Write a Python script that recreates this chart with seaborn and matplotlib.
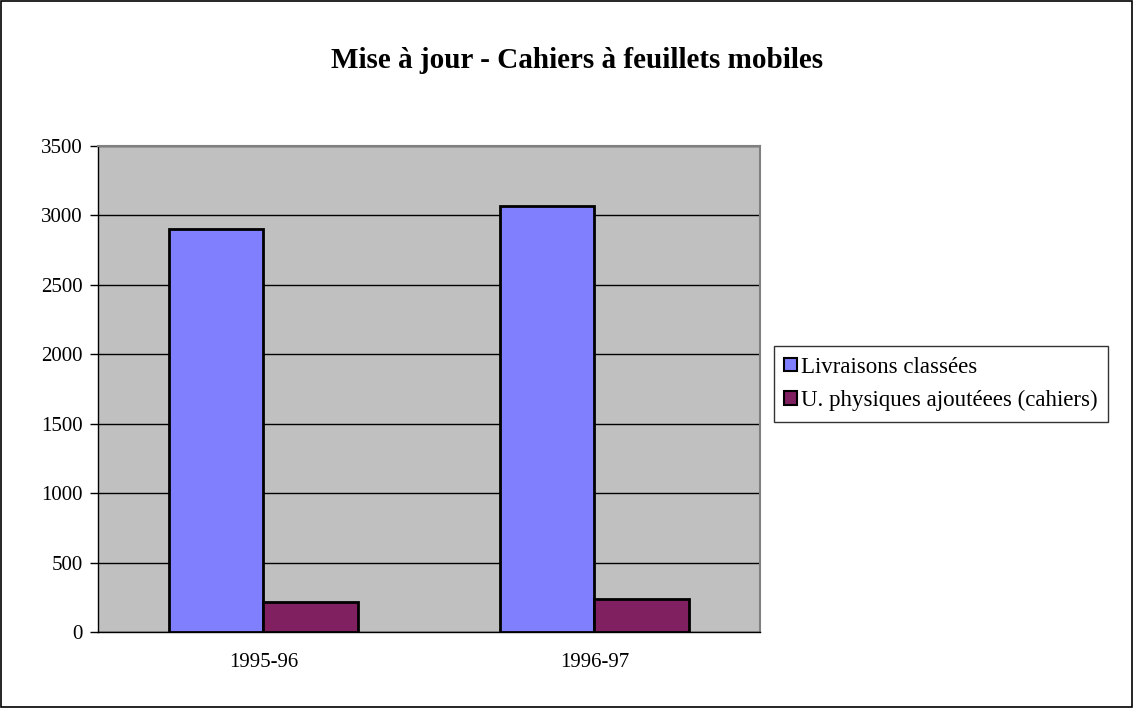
import pandas as pd
import seaborn as sns
import matplotlib.pyplot as plt
from matplotlib.patches import Rectangle
from matplotlib.ticker import MultipleLocator

# données
annees = ['1995-96', '1996-97']
series = ['Livraisons classées', 'U. physiques ajoutéees (cahiers)']
livraisons = [2900, 3070]
unites = [216, 238]

df = pd.DataFrame({
    'annee': annees * 2,
    'serie': [series[0]] * 2 + [series[1]] * 2,
    'valeur': livraisons + unites,
})

sns.set_style('white')
plt.rcParams['font.family'] = ['Liberation Serif', 'DejaVu Serif']
plt.rcParams['text.color'] = 'black'
plt.rcParams['xtick.color'] = 'black'
plt.rcParams['ytick.color'] = 'black'
plt.rcParams['axes.labelcolor'] = 'black'

fig = plt.figure(figsize=(11.34, 7.08), dpi=100)
ax = fig.add_axes([0.0864, 0.1073, 0.5838, 0.6865])

sns.barplot(data=df, x='annee', y='valeur', hue='serie',
            palette=['#8080FF', '#802060'], width=0.57,
            edgecolor='black', linewidth=2, saturation=1, ax=ax, zorder=3)

ax.set_facecolor('#C0C0C0')
ax.set_xlim(-0.5, 1.5)
ax.set_ylim(0, 3500)
ax.yaxis.set_major_locator(MultipleLocator(500))
ax.grid(axis='y', color='black', linewidth=1, zorder=1)
ax.set_axisbelow(True)
ax.set_xlabel('')
ax.set_ylabel('')

# ticks façon tableur
ax.tick_params(axis='x', which='major', length=0, labelsize=15, pad=15)
ax.set_xticks([-0.5, 0.5, 1.5], minor=True)
ax.tick_params(axis='x', which='minor', direction='inout', length=10, width=1, color='black')
ax.tick_params(axis='y', direction='out', length=6, width=1, color='black', labelsize=15, left=True, pad=5)

for s in ['left', 'bottom']:
    ax.spines[s].set_color('black')
    ax.spines[s].set_linewidth(1)
for s in ['top', 'right']:
    ax.spines[s].set_color('#808080')
    ax.spines[s].set_linewidth(1.5)

# légende
leg = ax.legend(loc='upper left', bbox_to_anchor=(0.6825, 0.511), bbox_transform=fig.transFigure,
                frameon=True, fancybox=False, fontsize=16.5, handlelength=0.55, handleheight=0.55,
                handletextpad=0.2, borderpad=0.45, labelspacing=0.55, borderaxespad=0)
leg.get_frame().set_edgecolor('black')
leg.get_frame().set_linewidth(1)
for h in leg.legend_handles:
    h.set_linewidth(1.5)

fig.text(0.509, 0.915, 'Mise à jour - Cahiers à feuillets mobiles', ha='center', va='center',
         fontsize=21, fontweight='bold')

# cadre extérieur
fig.patches.append(Rectangle((0.001, 0.001), 0.997, 0.997, transform=fig.transFigure,
                             fill=False, edgecolor='black', linewidth=1.2))

fig.savefig('out.png', dpi=100)
